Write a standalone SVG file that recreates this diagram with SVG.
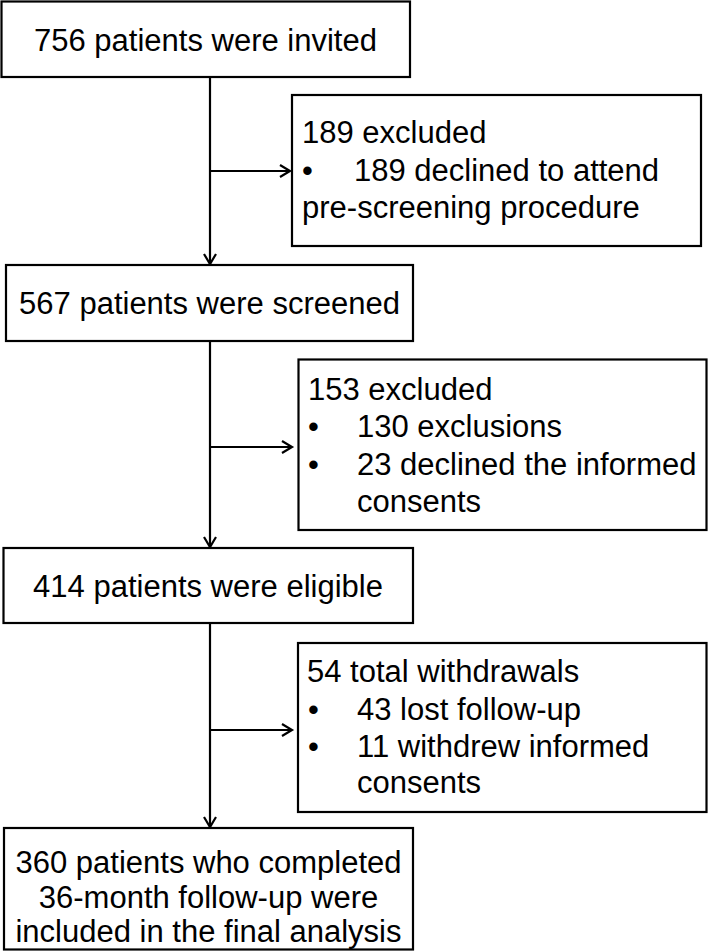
<svg xmlns="http://www.w3.org/2000/svg" width="709" height="952" viewBox="0 0 709 952">
<style>
.box{fill:#fff;stroke:#000;stroke-width:2.2}
.t{font-family:"Liberation Sans",Arial,sans-serif;font-size:31px;fill:#000}
.c{text-anchor:middle}
.line{stroke:#000;stroke-width:2.2;fill:none}
</style>
<defs>
<marker id="ah" markerUnits="userSpaceOnUse" markerWidth="14" markerHeight="16" refX="11" refY="7" orient="auto">
<path d="M1,1 L11,7 L1,13" fill="none" stroke="#000" stroke-width="2.2"/>
</marker>
</defs>
<rect width="709" height="952" fill="#fff"/>
<g id="connectors">
<line class="line" x1="210" y1="77" x2="210" y2="264" marker-end="url(#ah)"/>
<line class="line" x1="210" y1="341" x2="210" y2="547" marker-end="url(#ah)"/>
<line class="line" x1="210" y1="623" x2="210" y2="827" marker-end="url(#ah)"/>
<line class="line" x1="209" y1="171" x2="290" y2="171" marker-end="url(#ah)"/>
<line class="line" x1="209" y1="447" x2="292" y2="447" marker-end="url(#ah)"/>
<line class="line" x1="209" y1="730" x2="292" y2="730" marker-end="url(#ah)"/>
</g>
<g id="invited">
<rect class="box" x="1.5" y="1.5" width="408.5" height="75.5"/>
<text class="t c" x="205.5" y="51">756 patients were invited</text>
</g>
<g id="excluded1">
<rect class="box" x="292" y="95" width="409" height="151"/>
<text class="t" x="302" y="143">189 excluded</text>
<text class="t" x="302" y="181">•</text>
<text class="t" x="354" y="181">189 declined to attend</text>
<text class="t" x="302" y="218">pre-screening procedure</text>
</g>
<g id="screened">
<rect class="box" x="6" y="265" width="407" height="76"/>
<text class="t c" x="209.5" y="314">567 patients were screened</text>
</g>
<g id="excluded2">
<rect class="box" x="298.5" y="359.5" width="408" height="170.5"/>
<text class="t" x="308" y="400">153 excluded</text>
<text class="t" x="308" y="437">•</text>
<text class="t" x="357" y="437">130 exclusions</text>
<text class="t" x="308" y="475">•</text>
<text class="t" x="357" y="475">23 declined the informed</text>
<text class="t" x="357" y="512">consents</text>
</g>
<g id="eligible">
<rect class="box" x="3.5" y="548" width="409.5" height="75"/>
<text class="t c" x="208" y="597">414 patients were eligible</text>
</g>
<g id="withdrawals">
<rect class="box" x="298" y="643" width="408.5" height="169"/>
<text class="t" x="307" y="682">54 total withdrawals</text>
<text class="t" x="308" y="720">•</text>
<text class="t" x="357" y="720">43 lost follow-up</text>
<text class="t" x="308" y="757">•</text>
<text class="t" x="357" y="757">11 withdrew informed</text>
<text class="t" x="357" y="793">consents</text>
</g>
<g id="final">
<rect class="box" x="4" y="828" width="409" height="121.5"/>
<text class="t c" x="208.5" y="873">360 patients who completed</text>
<text class="t c" x="208.5" y="908">36-month follow-up were</text>
<text class="t c" x="208.5" y="942">included in the final analysis</text>
</g>
</svg>
